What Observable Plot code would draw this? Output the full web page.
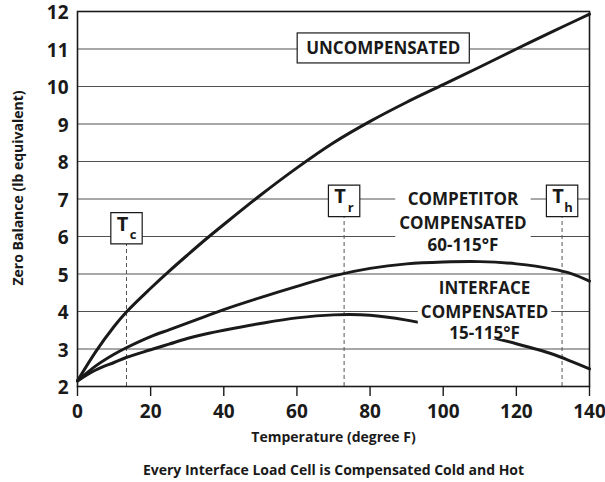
<!DOCTYPE html>
<html>
<head>
<meta charset="utf-8">
<script src="https://cdn.jsdelivr.net/npm/d3@7"></script>
<script src="https://cdn.jsdelivr.net/npm/@observablehq/plot@0.6"></script>
<style>
  html, body { margin: 0; padding: 0; background: #fff; }
  #chart svg { display: block; }
</style>
</head>
<body>
<div id="chart"></div>
<script>
// ---- data ----
const temps         = [0, 5, 10, 13.5, 20, 25, 30, 35, 40, 50, 60, 70, 80, 90, 100, 110, 120, 130, 135, 140];
const uncompensated = [2.15, 2.93, 3.6, 4.0, 4.62, 5.07, 5.5, 5.92, 6.32, 7.1, 7.83, 8.5, 9.07, 9.58, 10.05, 10.52, 11.0, 11.47, 11.7, 11.93];
const competitor    = [2.15, 2.55, 2.86, 3.04, 3.33, 3.51, 3.69, 3.87, 4.05, 4.37, 4.67, 4.95, 5.15, 5.27, 5.32, 5.33, 5.27, 5.13, 5.01, 4.81];
const interfaceComp = [2.15, 2.44, 2.64, 2.78, 2.98, 3.13, 3.28, 3.4, 3.5, 3.68, 3.83, 3.91, 3.9, 3.77, 3.57, 3.38, 3.14, 2.86, 2.67, 2.47];

const xTicks = [0, 20, 40, 60, 80, 100, 120, 140];
const yTicks = [2, 3, 4, 5, 6, 7, 8, 9, 10, 11, 12];
const gridValues = [3, 4, 5, 6, 7, 8, 9, 10, 11];

// temperature markers (Tc, Tr, Th) and their label boxes
const markerNames = ["c", "r", "h"];
const markerTemps = [13.4, 72.9, 132.5];
const markerBoxY  = [6.22, 6.95, 6.95];

const uncompLabel = {text: "UNCOMPENSATED", temp: 83.6, y: 11};
const competitorLines = ["COMPETITOR", "COMPENSATED", "60-115°F"];
const competitorLineY = [6.98, 6.35, 5.76];
const competitorTemp = 105.4;
const interfaceLines = ["INTERFACE", "COMPENSATED", "15-115°F"];
const interfaceLineY = [4.61, 3.98, 3.41];
const interfaceTemp = 111.3;

const xLabel = "Temperature (degree F)";
const yLabel = "Zero Balance (lb equivalent)";
const caption = "Every Interface Load Cell is Compensated Cold and Hot";

// ---- tables built from the arrays ----
const rows = [];
[["Uncompensated", uncompensated], ["Competitor", competitor], ["Interface", interfaceComp]]
  .forEach(([name, vals]) => temps.forEach((t, i) => rows.push({series: name, temp: t, value: vals[i]})));
const markers = markerNames.map((n, i) => ({name: n, temp: markerTemps[i], y: markerBoxY[i]}));
const compRows = competitorLines.map((s, i) => ({text: s, temp: competitorTemp, y: competitorLineY[i]}));
const intRows = interfaceLines.map((s, i) => ({text: s, temp: interfaceTemp, y: interfaceLineY[i]}));

const FONT = "Open Sans";
const ink = "#1a1a1a";

const chart = Plot.plot({
  width: 605,
  height: 482,
  marginLeft: 77,
  marginRight: 16,
  marginTop: 11,
  marginBottom: 96,
  x: {domain: [0, 140]},
  y: {domain: [2, 12]},
  style: {fontFamily: FONT, fontWeight: "bold", color: ink, background: "white", overflow: "visible"},
  marks: [
    Plot.ruleY(gridValues, {stroke: "#505050", strokeWidth: 1}),
    Plot.ruleX(markers, {x: "temp", y1: 2, y2: "y", stroke: "#555", strokeWidth: 1, strokeDasharray: "4,3"}),
    Plot.line(rows, {x: "temp", y: "value", z: "series", curve: "catmull-rom", stroke: ink, strokeWidth: 3}),
    Plot.frame({stroke: ink, strokeWidth: 1.6}),
    Plot.axisX({ticks: xTicks, tickSize: 10, tickPadding: 8, fontSize: 19, label: null, stroke: ink, strokeWidth: 1.4}),
    Plot.axisY({ticks: yTicks, tickSize: 0, tickPadding: 9, dy: 1.5, fontSize: 19, label: null}),
    // boxed T markers
    Plot.dot(markers, {x: "temp", y: "y", symbol: "square", r: 17.7, fill: "white", stroke: ink, strokeWidth: 1.2}),
    Plot.text(markers, {x: "temp", y: "y", text: () => "T", dx: -4, dy: -4, fontSize: 20, fill: ink}),
    Plot.text(markers, {x: "temp", y: "y", text: "name", dx: 6.5, dy: 7, fontSize: 13, fill: ink}),
    // labels
    Plot.text([uncompLabel], {x: "temp", y: "y", text: "text", fontSize: 17, fill: ink}),
    Plot.text(compRows, {x: "temp", y: "y", text: "text", fontSize: 17, fill: ink}),
    Plot.text(intRows, {x: "temp", y: "y", text: "text", fontSize: 17, fill: ink}),
    // axis titles and caption
    Plot.text([xLabel], {frameAnchor: "bottom", dy: 55, fontSize: 14, fill: ink}),
    Plot.text([caption], {frameAnchor: "bottom", dy: 88, fontSize: 14, fill: ink}),
    Plot.text([yLabel], {frameAnchor: "left", textAnchor: "middle", dx: -59, dy: -11, rotate: -90, fontSize: 14, fill: ink})
  ]
});

document.getElementById("chart").appendChild(chart);

// white (or boxed) backgrounds behind the annotation texts;
// a block is located by its first (unique) line, then every text of that mark is measured
function addBackground(firstLine, opts) {
  const first = Array.from(chart.querySelectorAll("text")).find(t => t.textContent === firstLine);
  if (!first) return;
  const g = first.parentNode;
  const texts = Array.from(g.querySelectorAll("text"));
  const sr = chart.getBoundingClientRect();
  const boxes = texts.map(t => t.getBoundingClientRect());
  const x0 = Math.min(...boxes.map(b => b.left)) - sr.left - opts.padX;
  const x1 = Math.max(...boxes.map(b => b.right)) - sr.left + opts.padX;
  let y0 = Math.min(...boxes.map(b => b.top)) - sr.top - opts.padTop;
  let y1 = Math.max(...boxes.map(b => b.bottom)) - sr.top + opts.padBottom;
  if (opts.height) { const c = (y0 + y1) / 2; y0 = c - opts.height / 2; y1 = c + opts.height / 2; }
  const r = document.createElementNS("http://www.w3.org/2000/svg", "rect");
  r.setAttribute("class", "label-bg");
  r.setAttribute("x", x0); r.setAttribute("y", y0);
  r.setAttribute("width", x1 - x0); r.setAttribute("height", y1 - y0);
  r.setAttribute("fill", "white");
  r.setAttribute("stroke", opts.stroke || "none");
  r.setAttribute("stroke-width", opts.strokeWidth || 0);
  g.parentNode.insertBefore(r, g);
}
function decorate() {
  chart.querySelectorAll(".label-bg").forEach(n => n.remove());
  addBackground(uncompLabel.text, {padX: 9, padTop: 0, padBottom: 0, height: 30, stroke: ink, strokeWidth: 1.2});
  addBackground(competitorLines[0], {padX: 4, padTop: -3, padBottom: -5});
  addBackground(interfaceLines[0], {padX: 3, padTop: -3, padBottom: -5});
}
decorate();
if (document.fonts) document.fonts.ready.then(decorate);
</script>
</body>
</html>
